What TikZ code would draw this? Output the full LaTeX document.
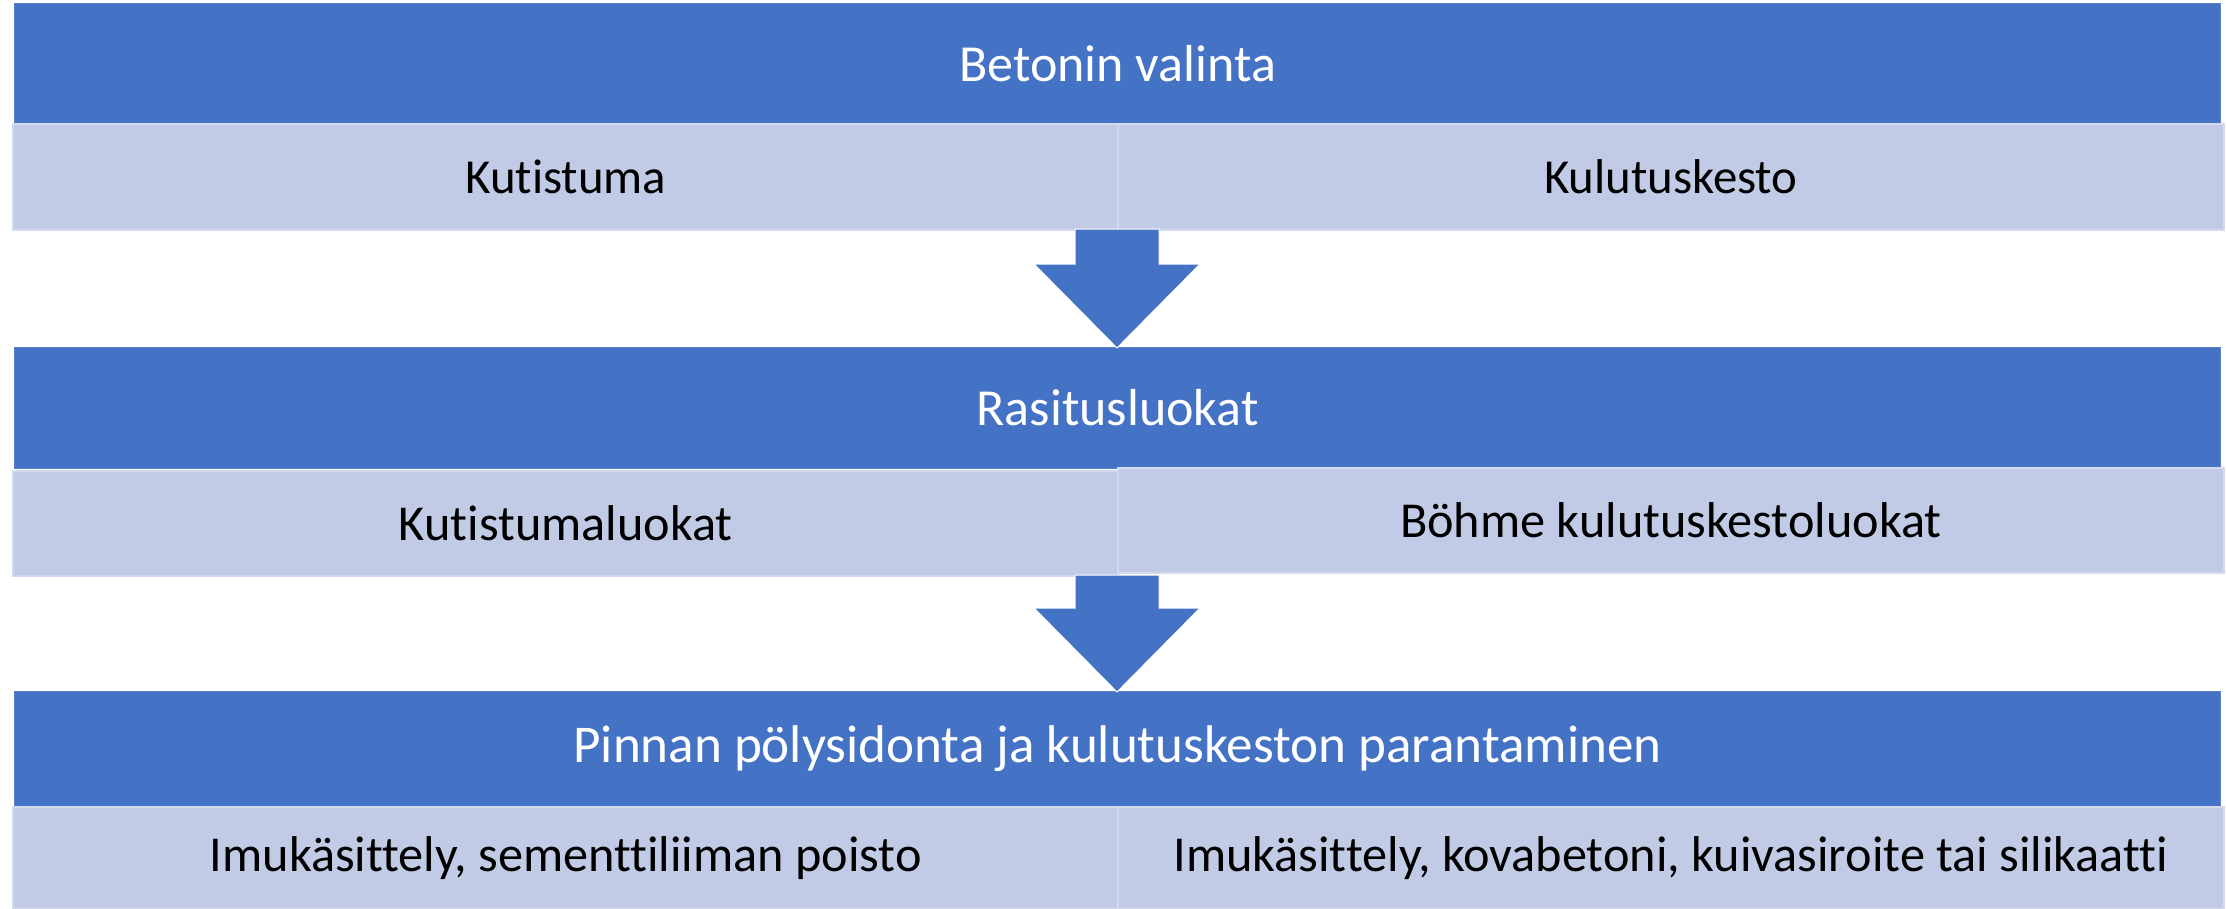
\documentclass[tikz,border=0pt]{standalone}
\usepackage{fontspec}
\setmainfont{Carlito}[Ligatures=NoCommon]
\definecolor{barblue}{HTML}{4472C4}
\definecolor{baredge}{HTML}{5A82CA}
\definecolor{cellfill}{HTML}{C1CBE6}
\definecolor{celledge}{HTML}{D3DAEE}
\begin{document}
\begin{tikzpicture}[x=0.01cm,y=-0.01cm,
  titlebar/.style={rectangle, anchor=north west, inner sep=0pt,
    fill=barblue, draw=baredge, line width=0.01cm,
    minimum width=22.05cm, text=white,
    font=\fontsize{14.8}{17}\selectfont},
  cellbox/.style={rectangle, anchor=north west, inner sep=0pt,
    fill=cellfill, draw=celledge, line width=0.02cm,
    minimum width=11.05cm, text=black,
    font=\fontsize{13.9}{16}\selectfont},
  largecell/.style={cellbox, font=\fontsize{14.3}{16}\selectfont},
  downarrow/.style={fill=barblue, draw=white, line width=0.01cm}]
\useasboundingbox (0,0) rectangle (2226,908);

% first block
\node[titlebar, minimum height=1.20cm] (t1) at (14,3) {Betonin valinta};
\node[cellbox, minimum height=1.06cm] (c1l) at (12,123) {Kutistuma};
\node[cellbox, minimum height=1.06cm] (c1r) at (1117,123) {Kulutuskesto};

% second block
\node[titlebar, minimum height=1.21cm] (t2) at (14,347) {Rasitusluokat};
\node[largecell, minimum height=1.05cm] (c2l) at (12,470) {Kutistumaluokat};
\node[largecell, minimum height=1.05cm] (c2r) at (1117,467) {Böhme kulutuskestoluokat};

% third block
\node[titlebar, minimum height=1.15cm, font=\fontsize{15.1}{17}\selectfont] (t3) at (14,691) {Pinnan pölysidonta ja kulutuskeston parantaminen};
\node[largecell, minimum height=1.02cm] (c3l) at (12,806) {Imukäsittely, sementtiliiman poisto};
\node[largecell, minimum height=1.02cm] (c3r) at (1117,806) {Imukäsittely, kovabetoni, kuivasiroite tai silikaatti};

% block arrows between the blocks
\coordinate (a1tip) at (1117,348);
\draw[downarrow] (1075,229) -- (1159,229) -- (1159,264) -- (1200,264)
  -- (a1tip) -- (1034,264) -- (1075,264) -- cycle;
\coordinate (a2tip) at (1117,692);
\draw[downarrow] (1075,575) -- (1159,575) -- (1159,608) -- (1200,608)
  -- (a2tip) -- (1034,608) -- (1075,608) -- cycle;
\end{tikzpicture}
\end{document}
